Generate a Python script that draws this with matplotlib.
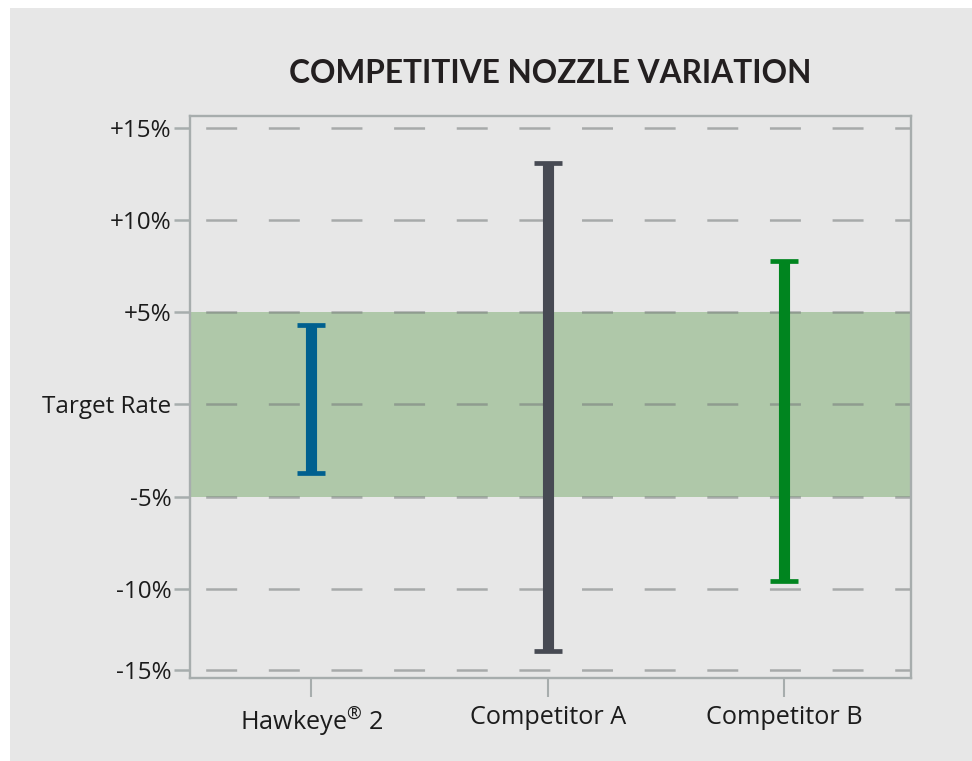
import numpy as np
import matplotlib
matplotlib.use("Agg")
import matplotlib.pyplot as plt
from matplotlib.patches import Rectangle

# --- data ---
nozzles = [r"Hawkeye$^{\mathrm{®}}$ 2", "Competitor A", "Competitor B"]
variation_high = [4.3, 13.1, 7.8]      # % above target rate
variation_low = [-3.7, -13.4, -9.6]    # % below target rate
bar_colors = ["#00608f", "#474a53", "#00851f"]

target_band = (-5, 5)
tick_values = [15, 10, 5, 0, -5, -10, -14.4]
tick_labels = ["+15%", "+10%", "+5%", "Target Rate", "-5%", "-10%", "-15%"]

panel_color = "#e7e7e7"
axis_gray = "#a7adad"
text_color = "#1c1c1c"

plt.rcParams["lines.scale_dashes"] = False
plt.rcParams["font.family"] = ["Open Sans", "DejaVu Sans"]
plt.rcParams["mathtext.fontset"] = "custom"
plt.rcParams["mathtext.rm"] = "Open Sans"

fig = plt.figure(figsize=(9.72, 7.61), dpi=100, facecolor="white")
# grey card behind everything
fig.patches.append(Rectangle((10 / 972, 0), 1, 1 - 8 / 761, transform=fig.transFigure,
                             facecolor=panel_color, edgecolor="none", zorder=-10))

ax = fig.add_axes([0.1955, 0.1095, 0.9376 - 0.1955, 0.8476 - 0.1095])
ax.set_facecolor(panel_color)

# target band +/-5%
ax.axhspan(*target_band, color="#afc8a9", zorder=0, lw=0)

# dashed guide lines drawn over the band
for v in tick_values:
    ax.axhline(v, color="#767b7b", alpha=0.56, lw=1.8,
               linestyle=(33.8, (22.3, 22.8)), zorder=1)

# variation ranges as error bars around the target
x = np.arange(len(nozzles))
for i in range(len(nozzles)):
    ax.errorbar(x[i], 0, yerr=[[-variation_low[i]], [variation_high[i]]],
                fmt="none", ecolor=bar_colors[i], elinewidth=8,
                capsize=10, capthick=3.4, zorder=3)

ax.set_xlim(-0.514, 2.539)
ax.set_ylim(-14.83, 15.65)

ax.set_yticks(tick_values)
ax.set_yticklabels(tick_labels)
ax.set_xticks(x)
ax.set_xticklabels(nozzles)

for s in ax.spines.values():
    s.set_color(axis_gray)
    s.set_linewidth(1.7)

ax.tick_params(axis="y", length=11.5, width=1.8, color=axis_gray,
               labelsize=17.5, labelcolor=text_color, pad=2)
ax.tick_params(axis="x", length=13.7, width=1.5, color=axis_gray,
               labelsize=18.2, labelcolor=text_color, pad=6)

fig.text(550.5 / 972, 1 - 82.7 / 761, "COMPETITIVE NOZZLE VARIATION",
         ha="center", va="baseline", fontsize=22.8, fontweight="bold",
         family=["Lato", "DejaVu Sans"], color="#231f20")

fig.savefig("out.png", dpi=100, facecolor=fig.get_facecolor())
